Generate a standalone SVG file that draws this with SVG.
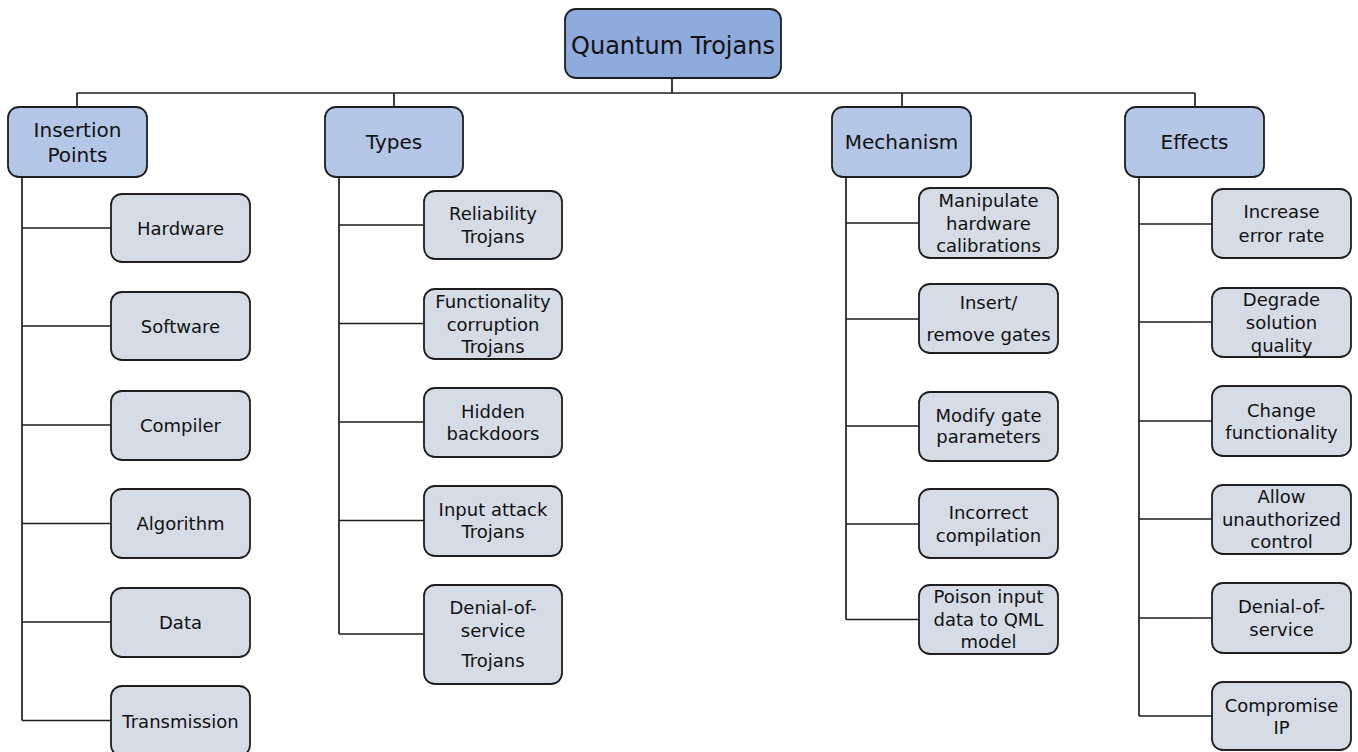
<svg xmlns="http://www.w3.org/2000/svg" width="1358" height="752" viewBox="0 0 1358 752">
<style>
rect{stroke:#1e1e1e;stroke-width:1.8}
.root{fill:#8FAADC}
.cat{fill:#B4C7E7}
.leaf{fill:#D6DCE5}
text{font-family:"DejaVu Sans",Verdana,sans-serif;fill:#111;text-anchor:middle}
.t18{font-size:18px}
.t20{font-size:20px}
.t23{font-size:24px}
#connectors path{fill:none;stroke:#1e1e1e;stroke-width:1.7}
</style>
<rect width="1358" height="752" fill="#fff" style="stroke:none"/>
<g id="connectors">
<path d="M672 78V93M77 93H1195M77 93V107M394 93V107M902 93V107M1195 93V107"/>
<path d="M22 177V720.5M22 228H111M22 326H111M22 425H111M22 523.5H111M22 622H111M22 720.5H111"/>
<path d="M339 177V634M339 225H424M339 323.5H424M339 422H424M339 520.5H424M339 634H424"/>
<path d="M846 177V619.5M846 223H919M846 319H919M846 426H919M846 524H919M846 619.5H919"/>
<path d="M1139 177V716M1139 224H1212M1139 322H1212M1139 421H1212M1139 519H1212M1139 618H1212M1139 716H1212"/>
</g>
<g id="root"><rect class="root" x="565" y="9" width="216" height="69" rx="11"/><text class="t23" x="673" y="53.5">Quantum Trojans</text></g>
<g id="insertion-points"><rect class="cat" x="8" y="107" width="139" height="70" rx="11"/><text class="t20" x="77.5"><tspan x="77.5" y="137">Insertion</tspan><tspan x="77.5" y="162">Points</tspan></text></g>
<g id="types"><rect class="cat" x="325" y="107" width="138" height="70" rx="11"/><text class="t20" x="394" y="149">Types</text></g>
<g id="mechanism"><rect class="cat" x="832" y="107" width="139" height="70" rx="11"/><text class="t20" x="901.5" y="149">Mechanism</text></g>
<g id="effects"><rect class="cat" x="1125" y="107" width="139" height="70" rx="11"/><text class="t20" x="1194.5" y="149">Effects</text></g>

<g id="hardware"><rect class="leaf" x="111" y="194" width="139" height="68" rx="11"/><text class="t18" x="180.5" y="234.5">Hardware</text></g>
<g id="software"><rect class="leaf" x="111" y="292" width="139" height="68" rx="11"/><text class="t18" x="180.5" y="332.5">Software</text></g>
<g id="compiler"><rect class="leaf" x="111" y="391" width="139" height="69" rx="11"/><text class="t18" x="180.5" y="431.5">Compiler</text></g>
<g id="algorithm"><rect class="leaf" x="111" y="489" width="139" height="69" rx="11"/><text class="t18" x="180.5" y="530">Algorithm</text></g>
<g id="data"><rect class="leaf" x="111" y="588" width="139" height="69" rx="11"/><text class="t18" x="180.5" y="628.5">Data</text></g>
<g id="transmission"><rect class="leaf" x="111" y="686" width="139" height="70" rx="11"/><text class="t18" x="180.5" y="727.5">Transmission</text></g>

<g id="reliability"><rect class="leaf" x="424" y="191" width="138" height="68" rx="11"/><text class="t18"><tspan x="493" y="219.5">Reliability</tspan><tspan x="493" y="242.5">Trojans</tspan></text></g>
<g id="functionality"><rect class="leaf" x="424" y="289" width="138" height="70" rx="11"/><text class="t18"><tspan x="493" y="308">Functionality</tspan><tspan x="493" y="330.5">corruption</tspan><tspan x="493" y="352.5">Trojans</tspan></text></g>
<g id="hidden"><rect class="leaf" x="424" y="388" width="138" height="69" rx="11"/><text class="t18"><tspan x="493" y="417.5">Hidden</tspan><tspan x="493" y="439.5">backdoors</tspan></text></g>
<g id="input-attack"><rect class="leaf" x="424" y="486" width="138" height="70" rx="11"/><text class="t18"><tspan x="493" y="515.5">Input attack</tspan><tspan x="493" y="538">Trojans</tspan></text></g>
<g id="dos-trojans"><rect class="leaf" x="424" y="585" width="138" height="99" rx="11"/><text class="t18"><tspan x="493" y="613.5">Denial-of-</tspan><tspan x="493" y="636.5">service</tspan><tspan x="493" y="667">Trojans</tspan></text></g>

<g id="manipulate"><rect class="leaf" x="919" y="188" width="139" height="70" rx="11"/><text class="t18"><tspan x="988.5" y="206.5">Manipulate</tspan><tspan x="988.5" y="229.5">hardware</tspan><tspan x="988.5" y="252">calibrations</tspan></text></g>
<g id="insert-remove"><rect class="leaf" x="919" y="284" width="139" height="69" rx="11"/><text class="t18"><tspan x="988.5" y="309">Insert/</tspan><tspan x="988.5" y="340.5">remove gates</tspan></text></g>
<g id="modify"><rect class="leaf" x="919" y="392" width="139" height="69" rx="11"/><text class="t18"><tspan x="988.5" y="421.5">Modify gate</tspan><tspan x="988.5" y="443">parameters</tspan></text></g>
<g id="incorrect"><rect class="leaf" x="919" y="489" width="139" height="69" rx="11"/><text class="t18"><tspan x="988.5" y="519">Incorrect</tspan><tspan x="988.5" y="541.5">compilation</tspan></text></g>
<g id="poison"><rect class="leaf" x="919" y="585" width="139" height="69" rx="11"/><text class="t18"><tspan x="988.5" y="603">Poison input</tspan><tspan x="988.5" y="626">data to QML</tspan><tspan x="988.5" y="648">model</tspan></text></g>

<g id="increase"><rect class="leaf" x="1212" y="189" width="139" height="69" rx="11"/><text class="t18"><tspan x="1281.5" y="218">Increase</tspan><tspan x="1281.5" y="241.5">error rate</tspan></text></g>
<g id="degrade"><rect class="leaf" x="1212" y="288" width="139" height="69" rx="11"/><text class="t18"><tspan x="1281.5" y="306">Degrade</tspan><tspan x="1281.5" y="329">solution</tspan><tspan x="1281.5" y="351.5">quality</tspan></text></g>
<g id="change"><rect class="leaf" x="1212" y="386" width="139" height="70" rx="11"/><text class="t18"><tspan x="1281.5" y="416.5">Change</tspan><tspan x="1281.5" y="439">functionality</tspan></text></g>
<g id="allow"><rect class="leaf" x="1212" y="485" width="139" height="69" rx="11"/><text class="t18"><tspan x="1281.5" y="502.5">Allow</tspan><tspan x="1281.5" y="525.5">unauthorized</tspan><tspan x="1281.5" y="547.5">control</tspan></text></g>
<g id="dos"><rect class="leaf" x="1212" y="583" width="139" height="70" rx="11"/><text class="t18"><tspan x="1281.5" y="613">Denial-of-</tspan><tspan x="1281.5" y="636">service</tspan></text></g>
<g id="compromise"><rect class="leaf" x="1212" y="682" width="139" height="68" rx="11"/><text class="t18"><tspan x="1281.5" y="711.5">Compromise</tspan><tspan x="1281.5" y="734">IP</tspan></text></g>
</svg>
